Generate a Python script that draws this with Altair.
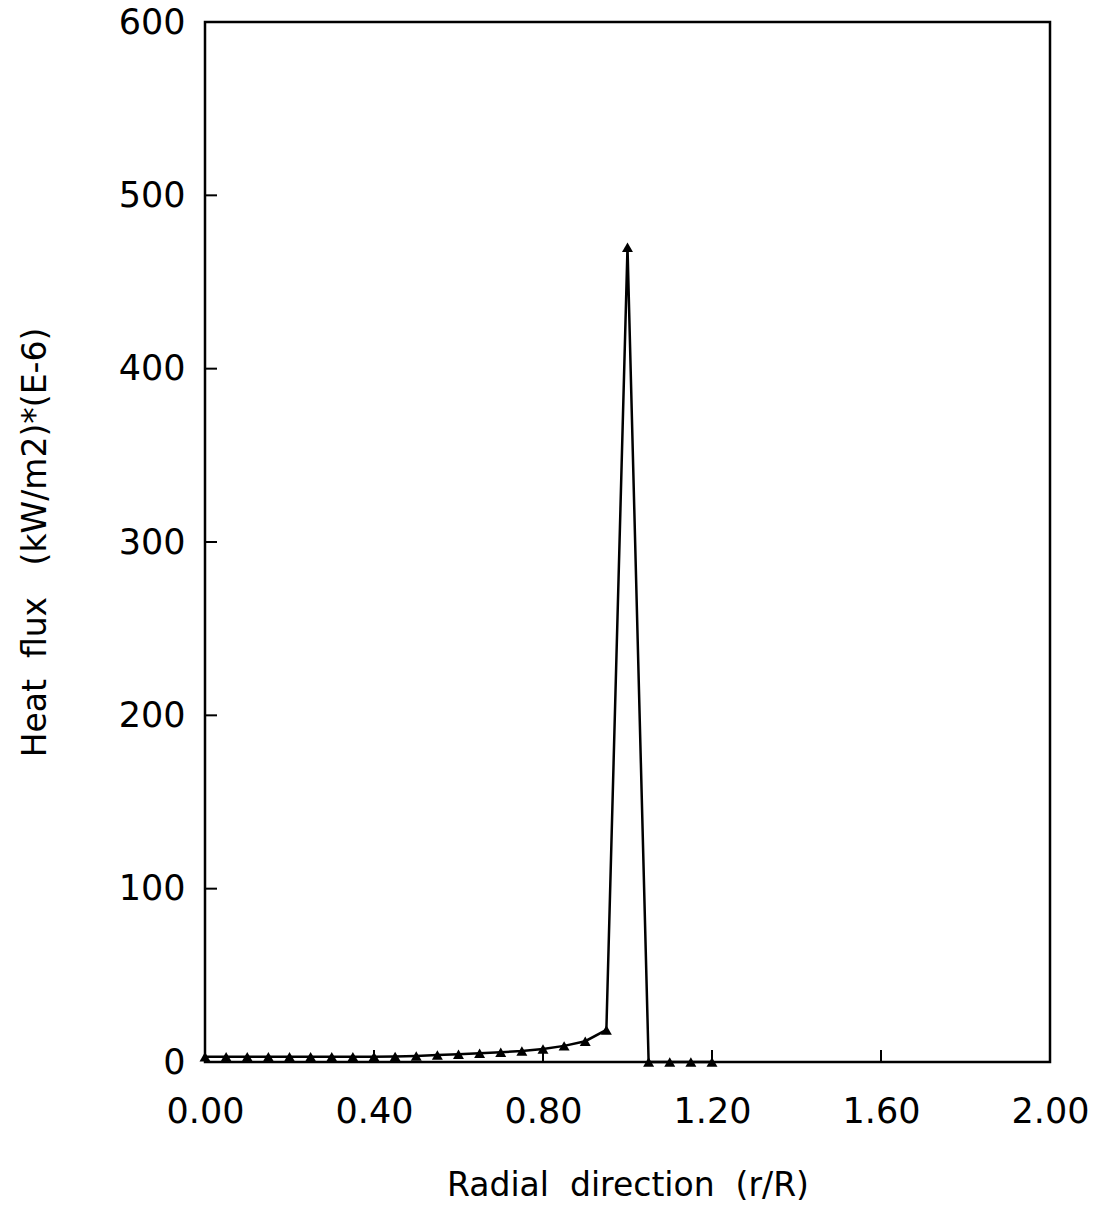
import altair as alt
import pandas as pd

r_vals = [0.00, 0.05, 0.10, 0.15, 0.20, 0.25, 0.30, 0.35, 0.40, 0.45,
          0.50, 0.55, 0.60, 0.65, 0.70, 0.75, 0.80, 0.85, 0.90, 0.95,
          1.00, 1.05, 1.10, 1.15, 1.20]
flux_vals = [3.0, 3.0, 3.0, 3.0, 3.0, 3.0, 3.0, 3.0, 3.1, 3.2,
             3.5, 4.0, 4.5, 5.0, 5.6, 6.4, 7.5, 9.3, 12.0, 18.5,
             470.0, 0.0, 0.0, 0.0, 0.0]
x_tick_vals = [0.0, 0.4, 0.8, 1.2, 1.6, 2.0]
y_tick_vals = [0, 100, 200, 300, 400, 500, 600]
x_inner_ticks = [0.4, 0.8, 1.2, 1.6]
y_inner_ticks = [100, 200, 300, 400, 500]

NB = "\u00a0"
x_title = f"Radial{NB}{NB}direction{NB}{NB}(r/R)"
y_title = f"Heat{NB}{NB}flux{NB}{NB}{NB}(kW/m2)*(E-6)"

W, H = 845, 1040
FONT = "DejaVu Sans"

df = pd.DataFrame({"r": r_vals, "q": flux_vals})

xenc = alt.X("r:Q", scale=alt.Scale(domain=[0, 2], nice=False, zero=False),
             axis=alt.Axis(values=x_tick_vals, format=".2f", title=x_title,
                           ticks=False, domain=False, grid=False, labelPadding=32,
                           labelFlush=False,
                           labelFontSize=35, titleFontSize=33, titlePadding=40,
                           labelFont=FONT, titleFont=FONT, labelColor="black",
                           titleColor="black", titleFontWeight="normal"))
yenc = alt.Y("q:Q", scale=alt.Scale(domain=[0, 600], nice=False),
             axis=alt.Axis(values=y_tick_vals, format="d", title=y_title,
                           ticks=False, domain=False, grid=False, labelPadding=20,
                           labelFlush=False,
                           labelFontSize=35, titleFontSize=33, titlePadding=66,
                           labelFont=FONT, titleFont=FONT, labelColor="black",
                           titleColor="black", titleFontWeight="normal"))

base = alt.Chart(df)
line = base.mark_line(color="black", strokeWidth=2.5).encode(x=xenc, y=yenc)
pts = base.mark_point(shape="triangle-up", filled=True, color="black", size=120, opacity=1).encode(
    x=alt.X("r:Q"), y=alt.Y("q:Q"))

xt = alt.Chart(pd.DataFrame({"t": x_inner_ticks})).mark_rule(color="black", strokeWidth=2).encode(
    x="t:Q", y=alt.value(H), y2=alt.value(H - 12))
yt = alt.Chart(pd.DataFrame({"t": y_inner_ticks})).mark_rule(color="black", strokeWidth=2).encode(
    y="t:Q", x=alt.value(0), x2=alt.value(12))

chart = alt.layer(line, pts, xt, yt).properties(
    width=W, height=H,
    autosize=alt.AutoSizeParams(type="none"),
    padding={"left": 205, "top": 22, "right": 53, "bottom": 165},
    background="white",
).configure_view(stroke="black", strokeWidth=2.5)

chart.save("out.html", embed_options={"renderer": "svg", "actions": False})
